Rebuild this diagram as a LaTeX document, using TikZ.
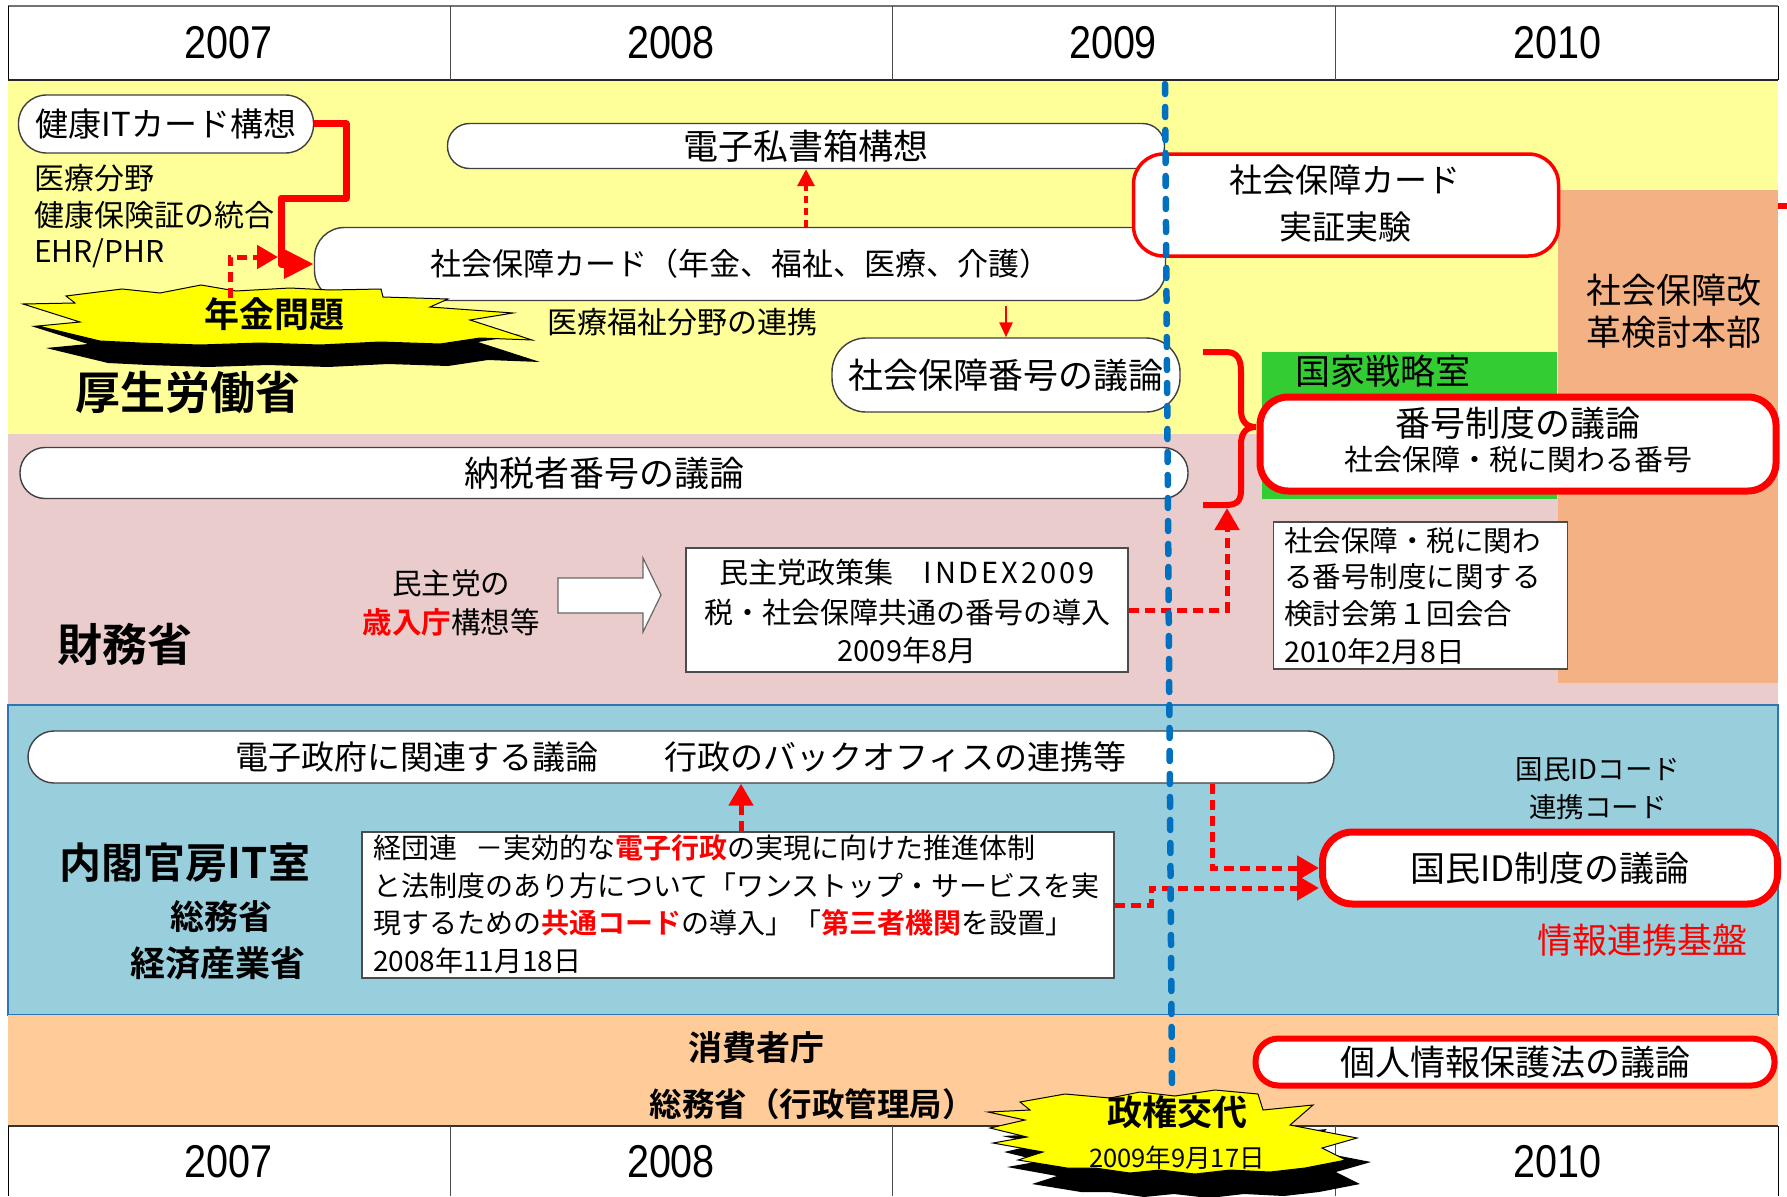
\documentclass[tikz,border=0pt]{standalone}
\usepackage{fontspec}
\setmainfont{Noto Sans CJK JP}[BoldFont={Noto Sans CJK JP Bold}]
\newfontfamily\yearfont{Liberation Sans}
\usetikzlibrary{arrows.meta}
\definecolor{bandY}{RGB}{255,255,153}
\definecolor{bandP}{RGB}{234,204,204}
\definecolor{bandB}{RGB}{153,206,220}
\definecolor{bandO}{RGB}{255,204,153}
\definecolor{colO}{RGB}{244,177,131}
\definecolor{grn}{RGB}{51,204,51}
\definecolor{vline}{RGB}{0,112,192}
\definecolor{starY}{RGB}{255,255,0}
\definecolor{rd}{RGB}{255,0,0}
\definecolor{bdrB}{RGB}{46,117,182}
\newcommand\fz[1]{\fontsize{#1}{#1}\selectfont}
\newcommand\yr[1]{\scalebox{0.86}[1]{#1}}
\tikzset{
  pillbox/.style={draw=black!75, line width=1.4pt, fill=white, inner sep=0pt},
  redbox/.style={draw=rd, fill=white, inner sep=0pt},
  plainbox/.style={draw=black!70, line width=1.2pt, fill=white, inner sep=0pt},
  txt/.style={inner sep=0pt},
  reddash/.style={draw=rd, line width=5pt, dash pattern=on 10pt off 6pt},
  redthin/.style={draw=rd, line width=3.5pt, dash pattern=on 7pt off 5pt},
  bigtip/.style={-{Triangle[length=22pt,width=24pt]}},
  startip/.style={fill=starY, draw=black, line width=1pt, line join=miter},
}
\begin{document}
\begin{tikzpicture}[x=1pt,y=-1pt]
\useasboundingbox (0,0) rectangle (1787,1196);
\fill[white] (0,0) rectangle (1787,1196);

% ---------- bands ----------
\fill[white] (8,6) rectangle (1778,80);
\fill[bandY] (8,80) rectangle (1778,434);
\fill[bandP] (8,434) rectangle (1778,705);
\fill[bandB] (8,705) rectangle (1778,1015);
\draw[bdrB, line width=1.5pt] (8,705) rectangle (1778,1015);
\fill[bandO] (8,1015) rectangle (1778,1126);

% header / footer grid
\draw[black!55, line width=2pt] (8,6) -- (1778,6);
\draw[black, line width=0.8pt] (8,6) -- (8,80) (1778,6) -- (1778,80);
\draw[black!85, line width=2.5pt] (8,80) -- (1778,80);
\foreach \xx in {450,892,1335} \draw[black!70, line width=0.8pt] (\xx,6) -- (\xx,80);
\draw[black!80, line width=2pt] (8,1126) -- (1778,1126);
\foreach \xx in {450,892,1335} \draw[black!70, line width=0.8pt] (\xx,1126) -- (\xx,1196);
\draw[black, line width=0.8pt] (8,1126) -- (8,1196) (1778,1126) -- (1778,1196);

\node[txt, font=\yearfont\fz{46}] (yt1) at (229,43) {\yr{2007}};
\node[txt, font=\yearfont\fz{46}] (yt2) at (671,43) {\yr{2008}};
\node[txt, font=\yearfont\fz{46}] (yt3) at (1113,43) {\yr{2009}};
\node[txt, font=\yearfont\fz{46}] (yt4) at (1557,43) {\yr{2010}};
\node[txt, font=\yearfont\fz{46}] (yb1) at (229,1162) {\yr{2007}};
\node[txt, font=\yearfont\fz{46}] (yb2) at (671,1162) {\yr{2008}};
\node[txt, font=\yearfont\fz{46}] (yb4) at (1557,1162) {\yr{2010}};

% right column and green block
\fill[colO] (1558,190) rectangle (1778,683);
\fill[grn] (1262,352) rectangle (1557,499);
\draw[rd, line width=6pt] (1778,206) -- (1787,206);

% ---------- 厚生労働省 band ----------
\node[pillbox, rounded corners=28pt, minimum width=295pt, minimum height=58pt, font=\fz{33}] (kenko) at (166,124) {健康ITカード構想};
\node[txt, anchor=west, font=\fz{30}] (iryo1) at (34,178) {医療分野};
\node[txt, anchor=west, font=\fz{30}] (iryo2) at (34,215) {健康保険証の統合};
\node[txt, anchor=west, font=\fz{30}] (iryo3) at (34,253) {EHR/PHR};

\node[pillbox, rounded corners=22pt, minimum width=717pt, minimum height=45pt, font=\fz{35}] (denshi) at (806,146) {電子私書箱構想};
\node[pillbox, rounded corners=30pt, minimum width=851pt, minimum height=73pt, font=\fz{31}] (shakai) at (740,264) {社会保障カード（年金、福祉、医療、介護）};
\node[txt, font=\fz{30}] (renkei) at (682,322) {医療福祉分野の連携};
\node[pillbox, rounded corners=34pt, minimum width=348pt, minimum height=74pt, font=\fz{35}] (bango) at (1006,375) {社会保障番号の議論};

\node[redbox, line width=3.5pt, rounded corners=30pt, minimum width=425pt, minimum height=102pt] (jissho) at (1346,205) {};
\node[txt, font=\fz{33}] (jissho1) at (1345,180) {社会保障カード};
\node[txt, font=\fz{33}] (jissho2) at (1345,227) {実証実験};

\node[txt, font=\fz{35}] (honbu1) at (1674,290) {社会保障改};
\node[txt, font=\fz{35}] (honbu2) at (1674,332) {革検討本部};
\node[txt, anchor=west, font=\fz{35}] (senryaku) at (1295,371) {国家戦略室};

\node[redbox, line width=7pt, rounded corners=28pt, minimum width=516pt, minimum height=94pt] (seido) at (1518,444) {};
\node[txt, font=\fz{35}] (seido1) at (1518,423) {番号制度の議論};
\node[txt, font=\fz{29}] (seido2) at (1518,460) {社会保障・税に関わる番号};

\draw[rd, line width=6pt, line cap=butt] (1203,352) -- (1226,352) .. controls (1238,352) and (1241,360) .. (1241,372) -- (1241,410) .. controls (1241,422) and (1247,427) .. (1256,427) .. controls (1247,427) and (1241,432) .. (1241,444) -- (1241,490) .. controls (1241,501) and (1237,505) .. (1226,505) -- (1203,505);

% 年金問題 star
\path[fill=black, shift={(8,22)}] (66,296) -- (122,289) -- (160,293) -- (201,285) -- (236,291) -- (290,288) -- (330,290) -- (381,289) -- (383,297) -- (448,299) -- (430,307) -- (513,313) -- (470,320) -- (532,340) -- (480,338) -- (440,344) -- (380,342) -- (320,345) -- (260,343) -- (200,345) -- (140,343) -- (100,341) -- (38,326) -- (80,322) -- (23,304) -- (75,303) -- cycle;
\path[startip] (66,296) -- (122,289) -- (160,293) -- (201,285) -- (236,291) -- (290,288) -- (330,290) -- (381,289) -- (383,297) -- (448,299) -- (430,307) -- (513,313) -- (470,320) -- (532,340) -- (480,338) -- (440,344) -- (380,342) -- (320,345) -- (260,343) -- (200,345) -- (140,343) -- (100,341) -- (38,326) -- (80,322) -- (23,304) -- (75,303) -- cycle;
\node[txt, font=\bfseries\fz{35}] (nenkin) at (274,314) {年金問題};
\node[txt, font=\bfseries\fz{45}] (kosei) at (188,392) {厚生労働省};

% connectors in the top band
\draw[rd, line width=7pt, line join=round, -{Triangle[length=30pt,width=28pt]}] (kenko.east) -- (346,124) -- (346,198) -- (281,198) -- (281,264) -- (shakai.west);
\coordinate (nk) at (230,298);
\coordinate (nkend) at (278,257);
\draw[reddash, -{Triangle[length=21pt,width=23pt]}] (nk) |- (nkend);
\coordinate (dx) at (806,0);
\draw[redthin, -{Triangle[length=17pt,width=17pt]}] (dx |- shakai.north) -- (dx |- denshi.south);
\draw[rd, line width=2.5pt, shorten <=5pt, -{Triangle[length=15pt,width=13pt]}] (bango.north |- shakai.south) -- (bango.north);

% ---------- 財務省 band ----------
\node[pillbox, rounded corners=25pt, minimum width=1168pt, minimum height=51pt, font=\fz{35}] (nozei) at (604,473) {納税者番号の議論};
\node[txt, font=\bfseries\fz{45}] (zaimu) at (125,644) {財務省};
\node[txt, font=\fz{29.5}] (minshu1) at (451,583) {民主党の};
\node[txt, font=\fz{29.5}] (minshu2) at (451,622) {\textcolor{rd}{\bfseries 歳入庁}構想等};
\draw[black!60, line width=1.2pt, fill=white] (558,578) -- (643,578) -- (643,558) -- (661,595) -- (643,632) -- (643,613) -- (558,613) -- cycle;

\node[plainbox, minimum width=442pt, minimum height=124pt] (index) at (907,610) {};
\node[txt, font=\fz{29}] (index1) at (907,572) {民主党政策集\hspace{30pt}{\addfontfeatures{LetterSpace=10}INDEX2009}};
\node[txt, font=\fz{29}] (index2) at (907,612) {税・社会保障共通の番号の導入};
\node[txt, font=\fz{29}] (index3) at (907,650) {2009年8月};

\node[plainbox, minimum width=294pt, minimum height=147pt] (kento) at (1420.5,595.5) {};
\node[txt, anchor=west, font=\fz{28.5}] (kento1) at (1284,541) {社会保障・税に関わ};
\node[txt, anchor=west, font=\fz{28.5}] (kento2) at (1284,577) {る番号制度に関する};
\node[txt, anchor=west, font=\fz{28.5}] (kento3) at (1284,614) {検討会第１回会合};
\node[txt, anchor=west, font=\fz{28.5}] (kento4) at (1284,652) {2010年2月8日};

\coordinate (brk) at (1227,508);
\draw[reddash, bigtip] (index.east) -| (brk);

% ---------- 内閣官房 band ----------
\node[pillbox, rounded corners=26pt, minimum width=1306pt, minimum height=52pt, font=\fz{33}] (egov) at (681,757) {電子政府に関連する議論　　行政のバックオフィスの連携等};
\node[txt, font=\bfseries\fz{42}] (naikaku) at (185,863) {内閣官房IT室};
\node[txt, font=\bfseries\fz{34}] (somu) at (221,917) {総務省};
\node[txt, font=\bfseries\fz{35}] (keisan) at (218,963) {経済産業省};

\node[plainbox, minimum width=752pt, minimum height=146pt] (keidan) at (738,905) {};
\node[txt, anchor=west, font=\fz{28}] (keidan1) at (373,848) {経団連\hspace{18pt}－実効的な\textcolor{rd}{\bfseries 電子行政}の実現に向けた推進体制};
\node[txt, anchor=west, font=\fz{28}] (keidan2) at (373,886) {と法制度のあり方について「ワンストップ・サービスを実};
\node[txt, anchor=west, font=\fz{28}] (keidan3) at (373,923) {現するための\textcolor{rd}{\bfseries 共通コード}の導入」「\textcolor{rd}{\bfseries 第三者機関}を設置」};
\node[txt, anchor=west, font=\fz{28}] (keidan4) at (373,961) {2008年11月18日};

\coordinate (kx) at (741,0);
\draw[reddash, bigtip] (kx |- keidan.north) -- (kx |- egov.south);

\node[redbox, line width=7pt, rounded corners=30pt, minimum width=455pt, minimum height=72pt, font=\fz{35}] (kokumin) at (1550,868) {国民ID制度の議論};
\coordinate (ax) at (1212,0);
\draw[reddash, bigtip] (ax |- egov.south) |- (kokumin.west);
\coordinate (bx) at (1151,888);
\draw[reddash, bigtip] (keidan.east) -| (bx) -- (bx -| kokumin.west);

\node[txt, font=\fz{27.5}] (kid1) at (1598,770) {国民IDコード};
\node[txt, font=\fz{27.5}] (kid2) at (1598,807) {連携コード};
\node[txt, font=\fz{35}, text=rd] (kiban) at (1642,940) {情報連携基盤};

% ---------- 消費者庁 band ----------
\node[txt, font=\bfseries\fz{34}] (shohi) at (756,1048) {消費者庁};
\node[txt, font=\bfseries\fz{32.5}] (gyokan) at (812,1104) {総務省（行政管理局）};
\node[redbox, line width=6pt, rounded corners=23pt, minimum width=519pt, minimum height=47pt, font=\fz{35}] (kojin) at (1515,1062) {個人情報保護法の議論};

% ---------- 2009 change line ----------
\coordinate (vtop) at (1165,84);
\coordinate (vbot) at (1172,1088);
\draw[vline, line width=6.5pt, line cap=round, dash pattern=on 10pt off 13pt] (vtop) -- (vbot);

% 政権交代 star
\path[fill=black, shift={(14,24)}] (1020,1102) -- (1065,1094) -- (1110,1098) -- (1140,1092) -- (1175,1096) -- (1215,1090) -- (1258,1094) -- (1263,1110) -- (1313,1105) -- (1290,1125) -- (1357,1138) -- (1322,1148) -- (1346,1160) -- (1305,1168) -- (1270,1172) -- (1230,1170) -- (1195,1174) -- (1160,1170) -- (1130,1173) -- (1095,1168) -- (1067,1168) -- (1018,1160) -- (1043,1152) -- (993,1143) -- (1027,1137) -- (990,1128) -- (1025,1120) -- (988,1112) -- (1030,1110) -- cycle;
\path[startip] (1020,1102) -- (1065,1094) -- (1110,1098) -- (1140,1092) -- (1175,1096) -- (1215,1090) -- (1258,1094) -- (1263,1110) -- (1313,1105) -- (1290,1125) -- (1357,1138) -- (1322,1148) -- (1346,1160) -- (1305,1168) -- (1270,1172) -- (1230,1170) -- (1195,1174) -- (1160,1170) -- (1130,1173) -- (1095,1168) -- (1067,1168) -- (1018,1160) -- (1043,1152) -- (993,1143) -- (1027,1137) -- (990,1128) -- (1025,1120) -- (988,1112) -- (1030,1110) -- cycle;
\node[txt, font=\bfseries\fz{35}] (seiken1) at (1177,1112) {政権交代};
\node[txt, font=\fz{25.5}] (seiken2) at (1177,1158) {2009年9月17日};
\end{tikzpicture}
\end{document}
